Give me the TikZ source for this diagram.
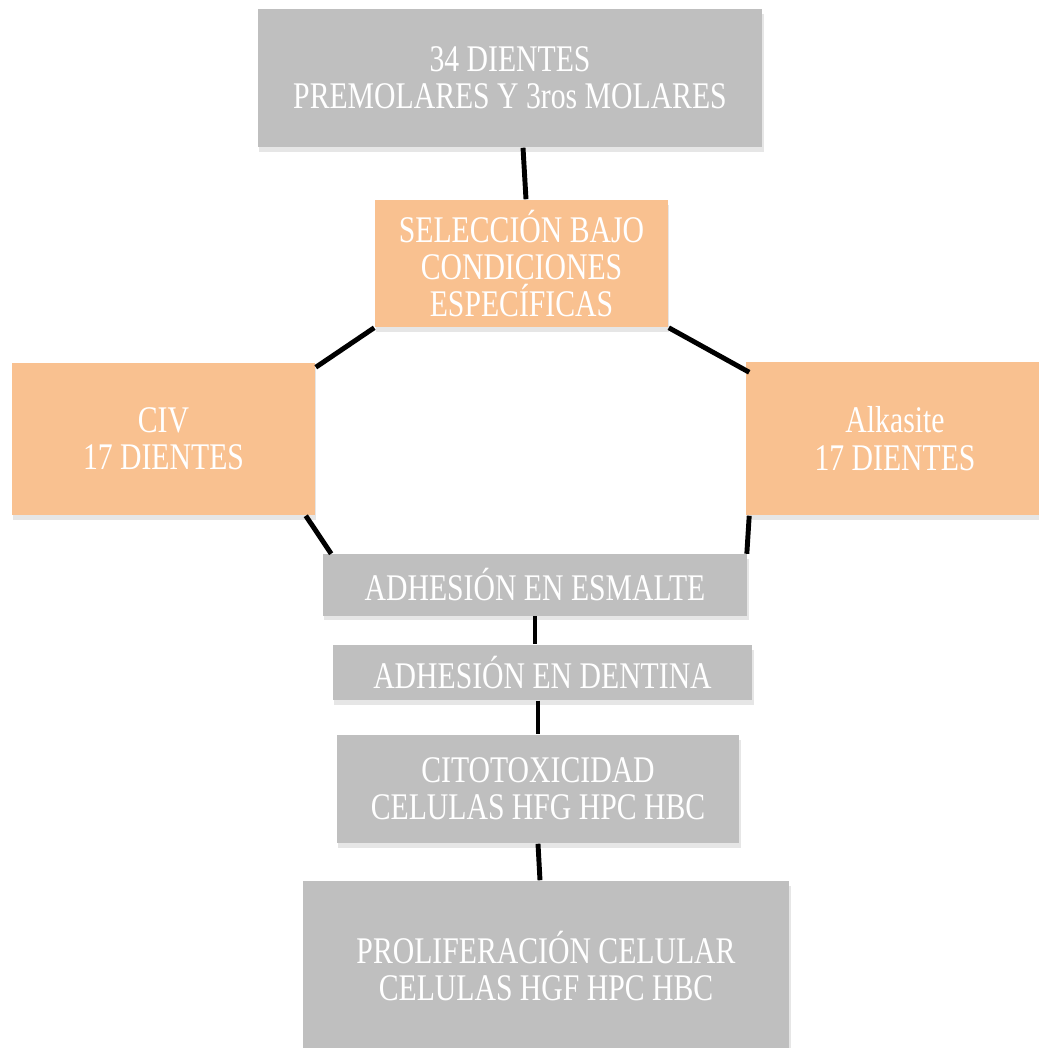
\documentclass[tikz,border=0pt]{standalone}
\usepackage{fontspec}
\setmainfont[FakeStretch=0.79]{Liberation Serif}
\usetikzlibrary{shadows,positioning}
\definecolor{boxgrey}{HTML}{BFBFBF}
\definecolor{boxorange}{HTML}{F9C190}

\begin{document}
\begin{tikzpicture}[
  x=0.01cm, y=-0.01cm,
  box/.style={rectangle, inner sep=0pt, align=center, text=white,
    font=\fontsize{10.7pt}{10.6pt}\selectfont,
    drop shadow={shadow xshift=0.4pt, shadow yshift=-1.4pt, opacity=0.2}},
  greybox/.style={box, fill=boxgrey},
  orangebox/.style={box, fill=boxorange},
  link/.style={line width=1.4pt, black}
]
  \clip (0,0) rectangle (1039,1048);
  \node[greybox, minimum width=5.04cm, minimum height=1.38cm] (teeth) at (510,78) {34 DIENTES\\PREMOLARES Y 3ros MOLARES};
  \node[orangebox, minimum width=2.93cm, minimum height=1.27cm] (sel) at (521.5,263.5) {SELECCIÓN BAJO\\CONDICIONES\\ESPECÍFICAS};
  \node[orangebox, minimum width=3.03cm, minimum height=1.52cm] (civ) at (163.5,439) {CIV\\17 DIENTES};
  \node[orangebox, minimum width=2.98cm, minimum height=1.53cm] (alk) at (895,438.5) {Alkasite\\17 DIENTES};
  \node[greybox, minimum width=4.24cm, minimum height=0.61cm] (enamel) at (535,585) {ADHESIÓN EN ESMALTE};
  \node[greybox, minimum width=4.19cm, minimum height=0.55cm] (dentin) at (542.5,672.5) {ADHESIÓN EN DENTINA};
  \node[greybox, minimum width=4.02cm, minimum height=1.08cm] (cyto) at (538,789) {CITOTOXICIDAD\\CELULAS HFG HPC HBC};
  \node[greybox, minimum width=4.86cm, minimum height=1.70cm] (prolif) at (546,966) {PROLIFERACIÓN CELULAR\\CELULAS HGF HPC HBC};
  % connectors
  \draw[link] ([xshift=0.13cm]teeth.south) -- ([xshift=0.045cm]sel.north);
  \draw[link] (sel.south west) -- ([yshift=-0.05cm]civ.north east);
  \draw[link] (sel.south east) -- ([shift={(0.04cm,-0.11cm)}]alk.north west);
  \draw[link] ([xshift=-0.1cm]civ.south east) -- ([xshift=0.09cm]enamel.north west);
  \draw[link] ([xshift=0.04cm]alk.south west) -- ([xshift=-0.01cm]enamel.north east);
  \draw[link] (enamel.south) -- (enamel.south |- dentin.north);
  \draw[link] (cyto.north |- dentin.south) -- (cyto.north);
  \draw[link] (cyto.south) -- ([xshift=-0.06cm]prolif.north);
\end{tikzpicture}
\end{document}
